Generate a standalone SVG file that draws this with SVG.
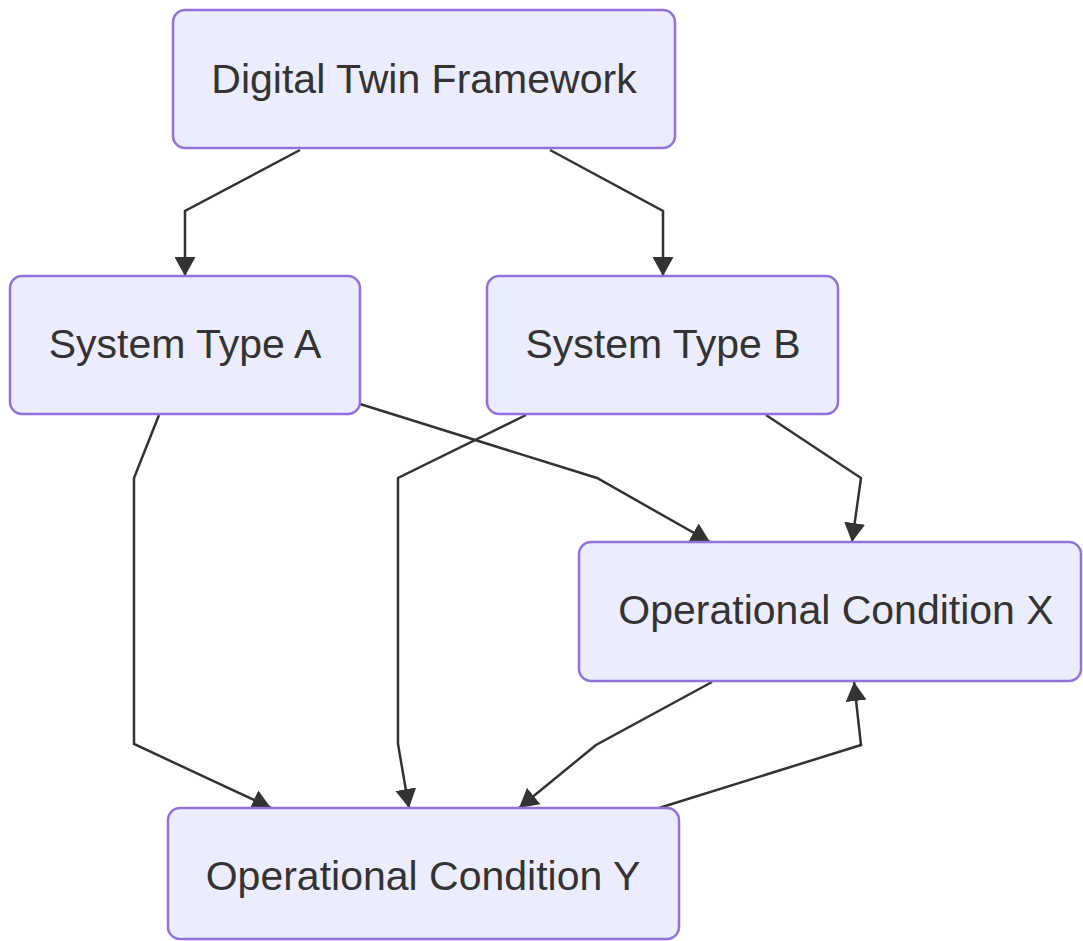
<svg xmlns="http://www.w3.org/2000/svg" width="1083" height="941" viewBox="0 0 1083 941">
<style>
.node rect{fill:#ECECFF;stroke:#9370DB;stroke-width:2.5}
.node text{font-family:"Liberation Sans",Arial,Helvetica,sans-serif;font-size:41px;fill:#333333;text-anchor:middle}
.edges polyline{fill:none;stroke:#333333;stroke-width:2.5;marker-end:url(#arrow)}
</style>
<defs>
<marker id="arrow" markerUnits="userSpaceOnUse" viewBox="0 0 19 21" refX="19" refY="10.5" markerWidth="19" markerHeight="21" orient="auto">
<path d="M0,0 L19,10.5 L0,21 z" fill="#333333"/>
</marker>
</defs>
<rect width="1083" height="941" fill="#ffffff"/>
<g class="edges">
<polyline points="300,150 185,211 185,276"/>
<polyline points="550,150 663,211 663,276"/>
<polyline points="360,404 597,478 710,542"/>
<polyline points="766,415 861,478 852,542"/>
<polyline points="159,415 134,478 134,744 271,808"/>
<polyline points="526,415 398,478 398,744 409,808"/>
<polyline points="712,682 596,745 519,808"/>
<polyline points="659,808 861,745 854,682"/>
</g>
<g id="node-dtf" class="node">
<rect x="173" y="10" width="502" height="138" rx="12" ry="12"/>
<text x="424" y="93">Digital Twin Framework</text>
</g>
<g id="node-a" class="node">
<rect x="10" y="276" width="350" height="138" rx="12" ry="12"/>
<text x="185" y="358">System Type A</text>
</g>
<g id="node-b" class="node">
<rect x="487" y="276" width="351" height="138" rx="12" ry="12"/>
<text x="663" y="358">System Type B</text>
</g>
<g id="node-x" class="node">
<rect x="579" y="542" width="502" height="139" rx="12" ry="12"/>
<text x="836" y="624">Operational Condition X</text>
</g>
<g id="node-y" class="node">
<rect x="168" y="808" width="511" height="131" rx="12" ry="12"/>
<text x="423" y="890">Operational Condition Y</text>
</g>
</svg>
